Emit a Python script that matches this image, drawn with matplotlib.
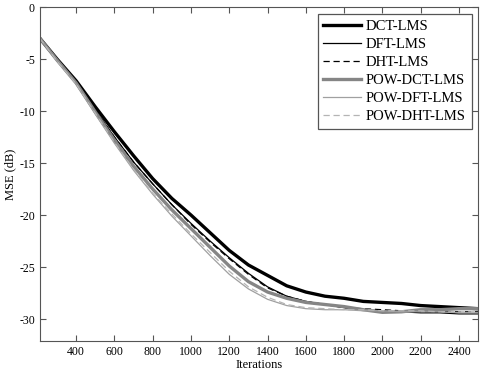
import numpy as np
import matplotlib
matplotlib.use("Agg")
import matplotlib.pyplot as plt

# --------------------------------------------
# Learning curves (MSE in dB)
# --------------------------------------------

iters = [210, 300, 400, 500, 600, 700, 800, 900, 1000, 1100, 1200, 1300,
         1400, 1500, 1600, 1700, 1800, 1900, 2000, 2100, 2200, 2300, 2400, 2500]

dct_lms = [-3.0, -5.0, -7.1, -9.6, -12.0, -14.3, -16.5, -18.4, -20.0, -21.7,
           -23.4, -24.8, -25.8, -26.8, -27.4, -27.8, -28.0, -28.3, -28.4, -28.5,
           -28.7, -28.8, -28.9, -29.0]

dft_lms = [-3.0, -5.1, -7.3, -9.9, -12.5, -14.9, -17.0, -19.0, -20.8, -22.5,
           -24.1, -25.6, -26.9, -27.8, -28.3, -28.6, -28.9, -29.1, -29.2, -29.3,
           -29.4, -29.4, -29.5, -29.5]

dht_lms = [-3.0, -5.1, -7.3, -9.9, -12.5, -14.9, -17.0, -19.0, -20.9, -22.6,
           -24.2, -25.7, -27.0, -27.8, -28.3, -28.6, -28.9, -29.0, -29.1, -29.2,
           -29.3, -29.3, -29.3, -29.3]

pow_dct = [-3.0, -5.1, -7.3, -10.1, -12.8, -15.3, -17.5, -19.5, -21.3, -23.1,
           -24.9, -26.4, -27.4, -28.0, -28.4, -28.6, -28.8, -29.1, -29.35, -29.3,
           -29.1, -29.1, -29.0, -29.0]

pow_dft = [-3.0, -5.2, -7.4, -10.3, -13.1, -15.7, -18.0, -20.1, -22.0, -23.9,
           -25.7, -27.1, -28.1, -28.7, -29.0, -29.1, -29.1, -29.2, -29.2, -29.3,
           -29.3, -29.3, -29.4, -29.4]

pow_dht = [-3.0, -5.2, -7.4, -10.2, -13.0, -15.6, -17.9, -19.9, -21.8, -23.6,
           -25.4, -26.9, -27.9, -28.6, -28.9, -29.0, -29.1, -29.1, -29.2, -29.2,
           -29.2, -29.3, -29.3, -29.3]

labels = ["DCT-LMS", "DFT-LMS", "DHT-LMS", "POW-DCT-LMS", "POW-DFT-LMS", "POW-DHT-LMS"]

# --------------------------------------------
# Plot
# --------------------------------------------

plt.rcParams["font.family"] = ["Liberation Serif", "DejaVu Serif"]
plt.rcParams["axes.unicode_minus"] = False

fig = plt.figure(figsize=(4.8, 3.73), dpi=100)
ax = fig.add_axes([0.083, 0.086, 0.913, 0.895])

ax.plot(iters, dct_lms, color="black", lw=2.4, label=labels[0])
ax.plot(iters, dft_lms, color="black", lw=0.9, label=labels[1])
ax.plot(iters, dht_lms, color="black", lw=0.9, ls=(0, (5, 3)), label=labels[2])
ax.plot(iters, pow_dct, color="#858585", lw=2.4, label=labels[3])
ax.plot(iters, pow_dft, color="#a0a0a0", lw=0.9, label=labels[4])
ax.plot(iters, pow_dht, color="#b4b4b4", lw=0.9, ls=(0, (5, 3)), label=labels[5])

ax.set_xlim(210, 2500)
ax.set_ylim(-32.1, 0)
ax.set_xticks(np.arange(400, 2401, 200))
ax.set_yticks(np.arange(-30, 1, 5))
ax.tick_params(direction="in", top=True, right=True, labelsize=8.5,
               color="#555555", length=4)
for s in ax.spines.values():
    s.set_color("#555555")

ax.set_xlabel("Iterations", fontsize=9, labelpad=1)
ax.set_ylabel("MSE (dB)", fontsize=9, labelpad=2)

leg = ax.legend(loc="upper right", fontsize=10.5, fancybox=False,
                edgecolor="#555555", framealpha=1, handlelength=2.6,
                borderaxespad=0.45, labelspacing=0.33, handletextpad=0.3)
leg.get_frame().set_linewidth(0.9)

fig.savefig("out.png", dpi=100)
